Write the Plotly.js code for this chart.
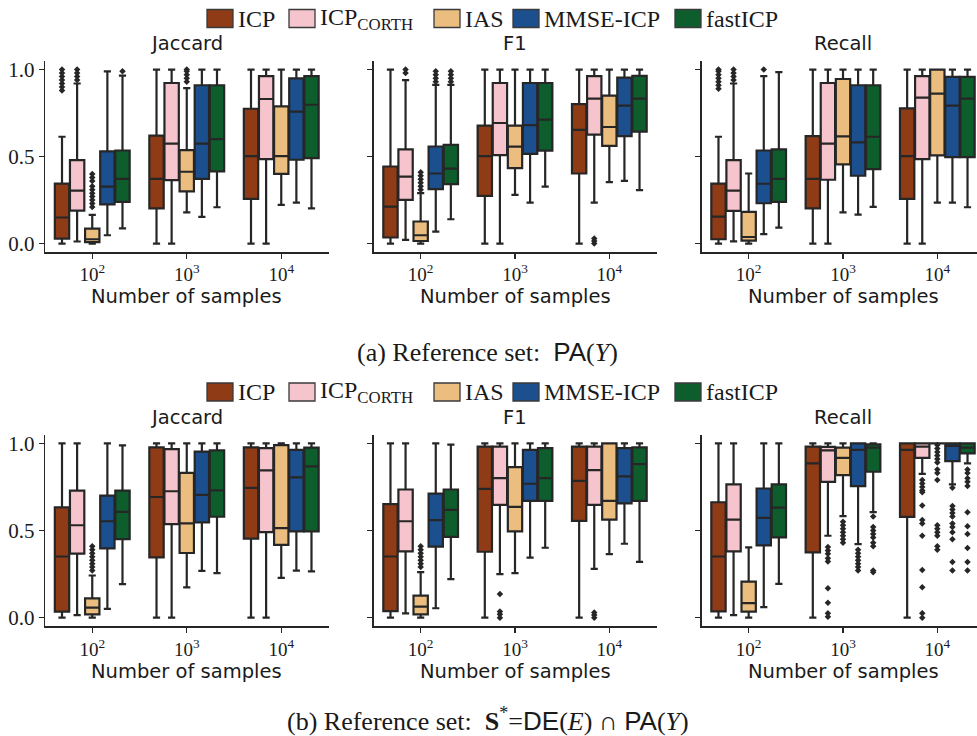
<!DOCTYPE html>
<html><head><meta charset="utf-8">
<script src="https://cdn.plot.ly/plotly-3.0.1.min.js"></script>
<style>html,body{margin:0;padding:0;overflow:hidden;background:#fff}#chart{width:977px;height:736px}</style>
</head><body><div id="chart"></div>
<script>
const methods = ['ICP','ICP<sub>CORTH</sub>','IAS','MMSE-ICP','fastICP'];
const methodColors = ['#8f3b16','#f6c4cd','#ebbe80','#1c4f8d','#0d5e2c'];
const sampleSizes = ['10<sup>2</sup>','10<sup>3</sup>','10<sup>4</sup>'];
const metrics = ['Jaccard','F1','Recall'];
const yTickVals = [0, 0.5, 1];
const yTickText = ['0.0','0.5','1.0'];
const xTitle = 'Number of samples';
const captionA = '(a) Reference set:  <span style="font-family:Liberation Sans">PA</span>(<i>Y</i>)';
const captionB = '(b) Reference set:  <b>S</b><sup>*</sup>=<span style="font-family:Liberation Sans">DE</span>(<i>E</i>) \u2229 <span style="font-family:Liberation Sans">PA</span>(<i>Y</i>)';

// Box statistics: rows = methods, cols = sample sizes; each [lowerfence, q1, median, q3, upperfence]
const paJaccard = [
  [[0,0.029,0.15,0.345,0.614],[0,0.203,0.372,0.62,1],[0,0.257,0.503,0.775,1]],
  [[0.012,0.19,0.305,0.48,0.92],[0,0.365,0.574,0.923,1],[0,0.486,0.831,0.962,1]],
  [[0,0.008,0.025,0.086,0.165],[0.18,0.30,0.413,0.537,0.894],[0.223,0.401,0.503,0.789,1]],
  [[0.048,0.225,0.328,0.53,0.99],[0.154,0.372,0.574,0.91,1],[0.236,0.482,0.758,0.95,1]],
  [[0.088,0.24,0.372,0.535,0.965],[0.209,0.415,0.60,0.91,1],[0.203,0.491,0.798,0.962,1]]
];
const paF1 = [
  [[0,0.035,0.213,0.443,1],[0,0.274,0.503,0.678,1],[0,0.403,0.654,0.802,1]],
  [[0.021,0.251,0.385,0.541,0.94],[0,0.509,0.693,0.923,1],[0.236,0.626,0.833,0.962,1]],
  [[0,0.015,0.048,0.127,0.29],[0.28,0.434,0.557,0.678,1],[0.353,0.562,0.67,0.85,1]],
  [[0.069,0.313,0.403,0.558,0.912],[0.236,0.516,0.681,0.923,1],[0.36,0.618,0.793,0.954,1]],
  [[0.14,0.342,0.431,0.567,0.912],[0.328,0.534,0.712,0.923,1],[0.307,0.643,0.833,0.964,1]]
];
const paRecall = [
  [[0,0.025,0.155,0.345,0.614],[0,0.203,0.372,0.618,1],[0,0.257,0.503,0.777,1]],
  [[0.013,0.188,0.305,0.48,0.92],[0,0.367,0.574,0.923,1],[0,0.486,0.839,0.962,1]],
  [[0,0.017,0.038,0.182,0.403],[0.18,0.455,0.616,0.946,1],[0.236,0.507,0.862,1,1]],
  [[0.054,0.232,0.344,0.535,0.963],[0.167,0.39,0.582,0.91,1],[0.236,0.497,0.793,0.958,1]],
  [[0.092,0.24,0.372,0.541,0.986],[0.211,0.428,0.614,0.91,1],[0.209,0.497,0.833,0.958,1]]
];
const seJaccard = [
  [[0,0.035,0.351,0.633,1],[0,0.346,0.692,0.977,1],[0,0.453,0.744,0.977,1]],
  [[0.015,0.367,0.53,0.729,1],[0,0.537,0.725,0.967,1],[0,0.491,0.845,0.973,1]],
  [[0,0.019,0.058,0.111,0.242],[0.174,0.371,0.541,0.83,1],[0.228,0.417,0.514,0.99,1]],
  [[0.05,0.397,0.553,0.70,1],[0.268,0.547,0.704,0.952,1],[0.27,0.495,0.805,0.962,1]],
  [[0.192,0.451,0.607,0.729,0.988],[0.256,0.579,0.73,0.96,1],[0.266,0.495,0.868,0.975,1]]
];
const seF1 = [
  [[0,0.038,0.351,0.651,1],[0,0.378,0.739,0.981,1],[0,0.555,0.785,0.981,1]],
  [[0.025,0.38,0.553,0.735,1],[0.25,0.647,0.80,0.981,1],[0.28,0.647,0.846,0.981,1]],
  [[0,0.019,0.063,0.127,0.261],[0.255,0.495,0.635,0.864,1],[0.365,0.562,0.67,1,1]],
  [[0.054,0.407,0.56,0.712,1],[0.344,0.67,0.768,0.962,1],[0.424,0.655,0.81,0.973,1]],
  [[0.221,0.464,0.618,0.735,0.992],[0.401,0.67,0.80,0.973,1],[0.32,0.67,0.881,0.977,1]]
];
const seRecall = [
  [[0,0.036,0.351,0.662,1],[0,0.374,0.885,0.981,1],[0,0.578,0.962,1,1]],
  [[0.015,0.38,0.562,0.764,1],[0.47,0.779,0.96,0.98,1],[0.825,0.917,0.981,1,1]],
  [[0,0.035,0.083,0.207,0.403],[0.582,0.818,0.917,0.975,1],[1,1,1,1,1]],
  [[0.06,0.415,0.572,0.741,1],[0.422,0.754,0.962,1,1],[0.764,0.898,0.985,1,1]],
  [[0.194,0.461,0.631,0.764,1],[0.605,0.837,0.975,0.994,1],[0.885,0.942,0.975,1,1]]
];
// Outliers: [methodIndex, sampleSizeIndex, values]
const paJaccardOut = [
  [0,0,[0.88,0.9,0.92,0.94,0.96,0.98,1]],
  [1,0,[0.94,0.96,0.98,1]],
  [2,0,[0.21,0.23,0.25,0.27,0.29,0.31,0.33,0.36,0.38,0.4]],
  [4,0,[0.99]],
  [2,1,[0.93,0.95,0.97,0.99,1]]
];
const paF1Out = [
  [1,0,[0.98,1]],
  [2,0,[0.31,0.33,0.35,0.37,0.39,0.41]],
  [3,0,[0.93,0.95,0.97,0.99]],
  [4,0,[0.93,0.95,0.97,0.99]],
  [1,2,[0,0.015,0.03]]
];
const paRecallOut = [
  [0,0,[0.89,0.91,0.93,0.95,0.97,0.99,1]],
  [1,0,[0.94,0.96,0.98,1]],
  [3,0,[1]]
];
const seJaccardOut = [
  [2,0,[0.27,0.29,0.31,0.33,0.35,0.37,0.39,0.41]]
];
const seF1Out = [
  [2,0,[0.29,0.31,0.33,0.35,0.37,0.39,0.41]],
  [1,1,[0.136,0.035,0.02,0]],
  [1,2,[0,0.015,0.03]]
];
const seRecallOut = [
  [1,1,[0.405,0.385,0.366,0.341,0.322,0.169,0.086,0.025,0.006]],
  [2,1,[0.55,0.53,0.51,0.49,0.47,0.45,0.43]],
  [3,1,[0.39,0.37,0.35,0.33,0.31,0.29,0.27]],
  [4,1,[0.58,0.52,0.5,0.48,0.46,0.43,0.41,0.27,0.26]],
  [1,2,[0.79,0.77,0.75,0.73,0.72,0.643,0.56,0.54,0.47,0.274,0.175,0.025,0]],
  [2,2,[0.99,0.97,0.95,0.93,0.91,0.89,0.85,0.83,0.79,0.53,0.51,0.49,0.47,0.41,0.39]],
  [3,2,[0.745,0.64,0.62,0.6,0.58,0.54,0.52,0.49,0.45,0.32,0.27]],
  [4,2,[0.85,0.83,0.8,0.78,0.755,0.605,0.525,0.48,0.4,0.32,0.27]]
];

const panels = [paJaccard, paF1, paRecall, seJaccard, seF1, seRecall];
const panelOut = [paJaccardOut, paF1Out, paRecallOut, seJaccardOut, seF1Out, seRecallOut];

// ---- layout geometry (pixels) ----
const W = 977, H = 736;
const colPx = [[45, 328.5], [373.5, 656.5], [701.5, 984.5]];
const rowPx = [[60.9, 252.3], [434.6, 626.4]];
const fx = p => p / W, fy = p => 1 - p / H;
const edge = '#262626';
const offsets = [-0.32, -0.16, 0, 0.16, 0.32];

const data = [];
const layout = {
  width: W, height: H, margin: {l:0, r:0, t:0, b:0},
  paper_bgcolor: '#fff', plot_bgcolor: '#fff', showlegend: false,
  boxmode: 'overlay', annotations: [], shapes: []
};

panels.forEach((stats, p) => {
  const r = Math.floor(p / 3), c = p % 3;
  const sfx = p === 0 ? '' : String(p + 1);
  const xa = 'x' + sfx, ya = 'y' + sfx;
  const dom = colPx[c];
  const rightPx = Math.min(dom[1], W);
  const xMax = -0.5 + 3 * (rightPx - dom[0]) / (dom[1] - dom[0]);
  layout['xaxis' + sfx] = {
    domain: [fx(dom[0]), fx(rightPx)], anchor: ya, range: [-0.5, xMax],
    tickvals: [0,1,2], ticktext: sampleSizes, ticks: 'outside', ticklen: 5, tickwidth: 1.3, tickcolor: edge,
    showline: true, linecolor: edge, linewidth: 1.3, showgrid: false, zeroline: false,
    tickfont: {family: 'Liberation Serif', size: 19, color: '#1a1a1a'}, fixedrange: true
  };
  layout['yaxis' + sfx] = {
    domain: [fy(rowPx[r][1]), fy(rowPx[r][0])], anchor: xa, range: [-0.05, 1.05],
    tickvals: yTickVals, ticktext: yTickText, ticks: 'outside', ticklen: 5, tickwidth: 1.3, tickcolor: edge,
    showticklabels: c === 0, showline: true, linecolor: edge, linewidth: 1.3, showgrid: false, zeroline: false,
    tickfont: {family: 'Liberation Serif', size: 21, color: '#1a1a1a'}, fixedrange: true
  };
  stats.forEach((rows, m) => {
    data.push({
      type: 'box', xaxis: xa, yaxis: ya,
      x: rows.map((_, g) => g + offsets[m]),
      lowerfence: rows.map(v => v[0]), q1: rows.map(v => v[1]), median: rows.map(v => v[2]),
      q3: rows.map(v => v[3]), upperfence: rows.map(v => v[4]),
      width: 0.152, whiskerwidth: 0.5, boxpoints: false,
      fillcolor: methodColors[m], line: {color: edge, width: 2.2},
      hoverinfo: 'skip', name: methods[m], showlegend: false
    });
  });
  panelOut[p].forEach(([m, g, vals]) => {
    data.push({
      type: 'scatter', mode: 'markers', xaxis: xa, yaxis: ya,
      x: vals.map(() => g + offsets[m]), y: vals,
      marker: {symbol: 'diamond', size: 5, color: edge},
      hoverinfo: 'skip', showlegend: false, cliponaxis: false
    });
  });
  const cx = (dom[0] + dom[1]) / 2;
  layout.annotations.push({
    xref: 'paper', yref: 'paper', x: fx(cx), y: fy(r === 0 ? 43.5 : 417), xanchor: 'center', yanchor: 'middle',
    text: metrics[c], showarrow: false, font: {family: 'DejaVu Sans', size: 19.5, color: '#1a1a1a'}
  });
  layout.annotations.push({
    xref: 'paper', yref: 'paper', x: fx(cx), y: fy(r === 0 ? 297 : 671), xanchor: 'center', yanchor: 'middle',
    text: xTitle, showarrow: false, font: {family: 'DejaVu Sans', size: 19.5, color: '#1a1a1a'}
  });
});

// legends (one above each row)
const legX = [207, 289, 434, 513, 675];
[18.5, 392].forEach(cy => {
  methods.forEach((name, m) => {
    layout.shapes.push({
      type: 'rect', xref: 'paper', yref: 'paper',
      x0: fx(legX[m]), x1: fx(legX[m] + 26), y0: fy(cy + 9), y1: fy(cy - 9),
      fillcolor: methodColors[m], line: {color: '#3a3a3a', width: 1.3}
    });
    layout.annotations.push({
      xref: 'paper', yref: 'paper', x: fx(legX[m] + 29), y: fy(cy), xanchor: 'left', yanchor: 'middle',
      text: name, showarrow: false, font: {family: 'Liberation Serif', size: 24, color: '#1a1a1a'}
    });
  });
});

// captions
layout.annotations.push({xref:'paper', yref:'paper', x: fx(487), y: fy(352), xanchor:'center', yanchor:'middle',
  text: captionA, showarrow:false, font:{family:'Liberation Serif', size: 26, color:'#1a1a1a'}});
layout.annotations.push({xref:'paper', yref:'paper', x: fx(488), y: fy(719), xanchor:'center', yanchor:'middle',
  text: captionB, showarrow:false, font:{family:'Liberation Serif', size: 26, color:'#1a1a1a'}});

Plotly.newPlot('chart', data, layout, {staticPlot: true, displayModeBar: false});
</script></body></html>
